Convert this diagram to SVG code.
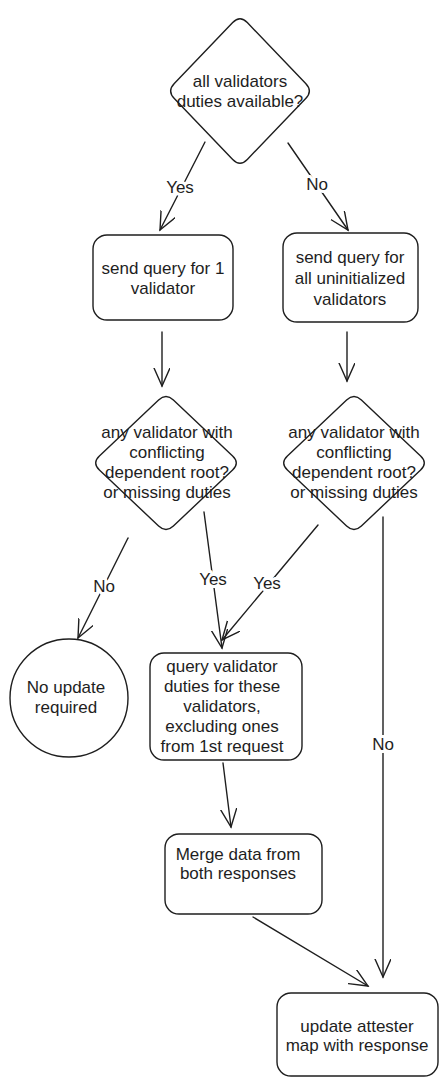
<svg xmlns="http://www.w3.org/2000/svg" width="448" height="1086" viewBox="0 0 448 1086">
<style>
.shape{fill:none;stroke:#1e1e1e;stroke-width:1.4;stroke-linejoin:round}
.conn{fill:none;stroke:#1e1e1e;stroke-width:1.4;stroke-linecap:round}
text{font-family:"Liberation Sans","DejaVu Sans",sans-serif;font-size:17px;fill:#1e1e1e;text-anchor:middle}
.lbl{stroke:#ffffff;stroke-width:6;paint-order:stroke;stroke-linejoin:round}
</style>
<defs>
<marker id="arr" markerUnits="userSpaceOnUse" markerWidth="26" markerHeight="26" refX="18" refY="8" orient="auto" viewBox="0 0 26 26">
<path d="M0,0 L18,8 L0,16" fill="none" stroke="#1e1e1e" stroke-width="1.4" stroke-linecap="round"/>
</marker>
</defs>
<rect width="448" height="1086" fill="#ffffff"/>

<g id="n-all-available">
<path class="shape" d="M247.3,22.6 L305.7,83.4 Q313,91 305.7,98.6 L247.3,159.4 Q240,167 232.7,159.4 L174.3,98.6 Q167,91 174.3,83.4 L232.7,22.6 Q240,15 247.3,22.6 Z"/>
<text x="240" y="87">all validators</text>
<text x="240" y="107">duties available?</text>
</g>

<g id="n-query-one">
<rect class="shape" x="93" y="235" width="140" height="85" rx="14"/>
<text x="163" y="274">send query for 1</text>
<text x="163" y="294">validator</text>
</g>

<g id="n-query-all">
<rect class="shape" x="283" y="233" width="135" height="89" rx="14"/>
<text x="350" y="263">send query for</text>
<text x="350" y="284">all uninitialized</text>
<text x="350" y="305">validators</text>
</g>

<g id="n-conflict-left">
<path class="shape" d="M173.4,400 L232.6,456 Q240,463 232.6,470 L173.4,526 Q166,533 158.6,526 L99.4,470 Q92,463 99.4,456 L158.6,400 Q166,393 173.4,400 Z"/>
<text x="167" y="438">any validator with</text>
<text x="167" y="458">conflicting</text>
<text x="167" y="478">dependent root?</text>
<text x="167" y="498">or missing duties</text>
</g>

<g id="n-conflict-right">
<path class="shape" d="M361.4,400 L420.6,456 Q428,463 420.6,470 L361.4,526 Q354,533 346.6,526 L287.4,470 Q280,463 287.4,456 L346.6,400 Q354,393 361.4,400 Z"/>
<text x="354" y="438">any validator with</text>
<text x="354" y="458">conflicting</text>
<text x="354" y="478">dependent root?</text>
<text x="354" y="498">or missing duties</text>
</g>

<g id="n-no-update">
<circle class="shape" cx="69" cy="698" r="59"/>
<text x="66" y="693">No update</text>
<text x="66" y="713">required</text>
</g>

<g id="n-query-these">
<rect class="shape" x="150" y="653" width="152" height="107" rx="14"/>
<text x="222" y="672">query validator</text>
<text x="222" y="692">duties for these</text>
<text x="222" y="712">validators,</text>
<text x="222" y="732">excluding ones</text>
<text x="222" y="752">from 1st request</text>
</g>

<g id="n-merge">
<rect class="shape" x="165" y="834" width="157" height="80" rx="14"/>
<text x="238" y="860">Merge data from</text>
<text x="238" y="879">both responses</text>
</g>

<g id="n-update">
<rect class="shape" x="277" y="993" width="161" height="83" rx="14"/>
<text x="357" y="1032">update attester</text>
<text x="357" y="1051">map with response</text>
</g>

<g id="connectors">
<line class="conn" x1="205" y1="142" x2="160" y2="230" marker-end="url(#arr)"/>
<line class="conn" x1="288" y1="143" x2="348" y2="230" marker-end="url(#arr)"/>
<line class="conn" x1="162" y1="332" x2="162" y2="386" marker-end="url(#arr)"/>
<line class="conn" x1="347" y1="332" x2="347" y2="381" marker-end="url(#arr)"/>
<line class="conn" x1="128" y1="538" x2="78" y2="638" marker-end="url(#arr)"/>
<line class="conn" x1="204" y1="512" x2="222" y2="648" marker-end="url(#arr)"/>
<line class="conn" x1="318" y1="525" x2="222" y2="640" marker-end="url(#arr)"/>
<line class="conn" x1="223" y1="763" x2="231" y2="827" marker-end="url(#arr)"/>
<line class="conn" x1="253" y1="917" x2="368" y2="986" marker-end="url(#arr)"/>
<line class="conn" x1="383" y1="517" x2="383" y2="977" marker-end="url(#arr)"/>
<text class="lbl" x="180" y="193">Yes</text>
<text class="lbl" x="317" y="190">No</text>
<text class="lbl" x="104" y="592">No</text>
<text class="lbl" x="213" y="585">Yes</text>
<text class="lbl" x="267" y="589">Yes</text>
<text class="lbl" x="383" y="750">No</text>
</g>
</svg>
